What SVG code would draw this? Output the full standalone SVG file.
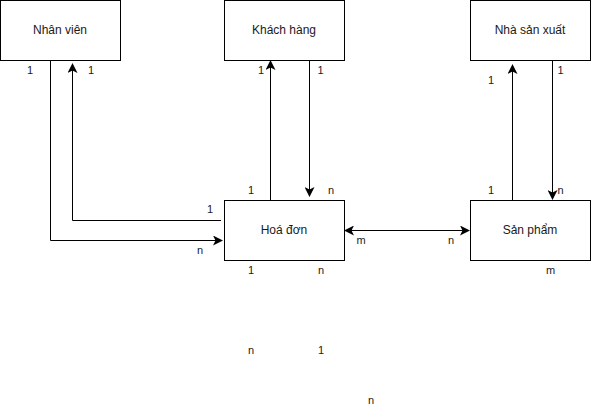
<svg xmlns="http://www.w3.org/2000/svg" width="591" height="411" viewBox="0 0 591 411">
  <style>
    .box { fill: #ffffff; stroke: #000000; stroke-width: 1; }
    .name { font-family: "Liberation Sans", Arial, sans-serif; font-size: 12px; fill: #1a1a1a; text-anchor: middle; dominant-baseline: central; }
    .card { font-family: "Liberation Sans", Arial, sans-serif; font-size: 11px; fill: #1a1a1a; text-anchor: middle; dominant-baseline: central; }
    .edge { fill: none; stroke: #000000; stroke-width: 1; }
  </style>
  <defs>
    <marker id="arrow" viewBox="0 0 10 10" refX="9" refY="5" markerWidth="10" markerHeight="10" markerUnits="userSpaceOnUse" orient="auto-start-reverse">
      <path d="M0,0 L10,5 L0,10 L2.5,5 Z" fill="#000000"/>
    </marker>
  </defs>

  <rect width="591" height="411" fill="#ffffff"/>

  <!-- connectors -->
  <g id="connectors">
    <path class="edge" d="M221,220.5 H72.5 V64" marker-end="url(#arrow)"/>
    <path class="edge" d="M50.5,60 V240.5 H222" marker-end="url(#arrow)"/>
    <path class="edge" d="M270.5,200 V61" marker-end="url(#arrow)"/>
    <path class="edge" d="M309.5,60 V196" marker-end="url(#arrow)"/>
    <path class="edge" d="M345,230.5 H469" marker-start="url(#arrow)" marker-end="url(#arrow)"/>
    <path class="edge" d="M512.5,200 V65" marker-end="url(#arrow)"/>
    <path class="edge" d="M552.5,60 V199" marker-end="url(#arrow)"/>
  </g>

  <!-- entities -->
  <g id="nhan-vien">
    <rect class="box" x="0.5" y="0.5" width="120" height="60"/>
    <text class="name" x="60" y="30">Nhân viên</text>
  </g>
  <g id="khach-hang">
    <rect class="box" x="224.5" y="0.5" width="120" height="60"/>
    <text class="name" x="284" y="30">Khách hàng</text>
  </g>
  <g id="nha-san-xuat">
    <rect class="box" x="470.5" y="0.5" width="120" height="60"/>
    <text class="name" x="530" y="30">Nhà sản xuất</text>
  </g>
  <g id="hoa-don">
    <rect class="box" x="224.5" y="200.5" width="120" height="60"/>
    <text class="name" x="284" y="230">Hoá đơn</text>
  </g>
  <g id="san-pham">
    <rect class="box" x="470.5" y="200.5" width="120" height="60"/>
    <text class="name" x="530" y="230">Sản phẩm</text>
  </g>

  <!-- cardinality labels -->
  <g id="cardinalities">
    <text class="card" x="30" y="70">1</text>
    <text class="card" x="91" y="70">1</text>
    <text class="card" x="210" y="209">1</text>
    <text class="card" x="200" y="250">n</text>
    <text class="card" x="261" y="70">1</text>
    <text class="card" x="320.5" y="70">1</text>
    <text class="card" x="251" y="190">1</text>
    <text class="card" x="331" y="190">n</text>
    <text class="card" x="361" y="240">m</text>
    <text class="card" x="251" y="270">1</text>
    <text class="card" x="321" y="270">n</text>
    <text class="card" x="451" y="240">n</text>
    <text class="card" x="491" y="80">1</text>
    <text class="card" x="560.5" y="70">1</text>
    <text class="card" x="491" y="190">1</text>
    <text class="card" x="560.5" y="190">n</text>
    <text class="card" x="550.5" y="270">m</text>
    <text class="card" x="251" y="350">n</text>
    <text class="card" x="321" y="350">1</text>
    <text class="card" x="371" y="400">n</text>
  </g>
</svg>
